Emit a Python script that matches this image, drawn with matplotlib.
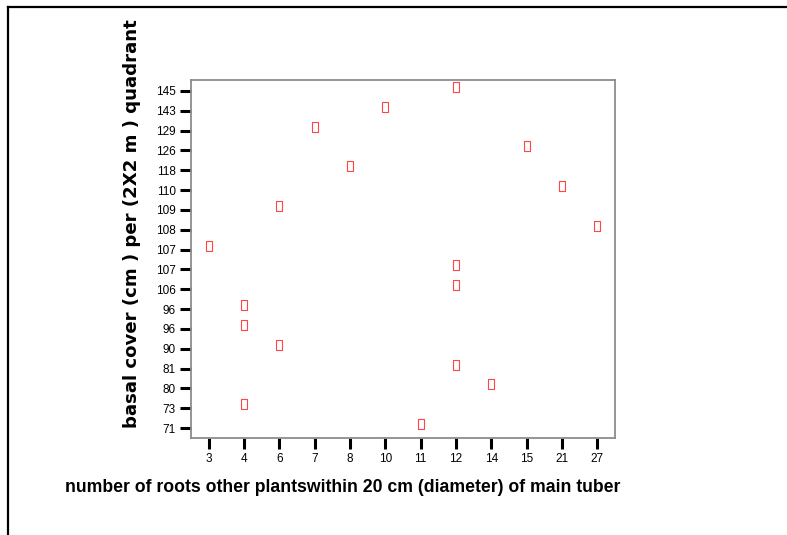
import matplotlib
matplotlib.use("Agg")
import matplotlib.pyplot as plt
from matplotlib.lines import Line2D
from matplotlib.path import Path
import matplotlib.transforms as mtransforms

# category axes: x = root counts, y = basal cover labels (bottom to top)
roots_labels = ["3", "4", "6", "7", "8", "10", "11", "12", "14", "15", "21", "27"]
cover_labels = ["71", "73", "80", "81", "90", "96", "96", "106", "107", "107",
                "108", "109", "110", "118", "126", "129", "143", "145"]

# one observation per cover row: (row index, root count label)
obs_row = [0, 1, 2, 3, 4, 5, 6, 7, 8, 9, 10, 11, 12, 13, 14, 15, 16, 17]
obs_roots = ["11", "4", "14", "12", "6", "4", "4", "12", "12", "3",
             "27", "6", "21", "8", "15", "7", "10", "12"]

RED = "#FF4545"
SPINE = "#8C8C8C"

plt.rcParams["font.family"] = ["Liberation Sans", "DejaVu Sans"]

fig = plt.figure(figsize=(7.87, 5.35), dpi=100)
ax = fig.add_axes([191 / 787, 1 - 438 / 535, 424 / 787, 358 / 535])

box = Path([(-0.3, -0.5), (0.3, -0.5), (0.3, 0.5), (-0.3, 0.5), (-0.3, -0.5)],
           [Path.MOVETO, Path.LINETO, Path.LINETO, Path.LINETO, Path.CLOSEPOLY])
xs = [roots_labels.index(r) for r in obs_roots]
lift = mtransforms.offset_copy(ax.transData, fig=fig, x=0, y=4, units="dots")
ax.plot(xs, obs_row, ls="none", marker=box, ms=6.5, mfc="none", mec=RED,
        mew=0.8, transform=lift, clip_on=False)

ax.set_xlim(-0.5, len(roots_labels) - 0.5)
ax.set_ylim(-0.5, len(cover_labels) - 0.45)
ax.set_xticks(range(len(roots_labels)))
ax.set_xticklabels(roots_labels)
ax.set_yticks(range(len(cover_labels)))
ax.set_yticklabels(cover_labels)
ax.tick_params(axis="both", direction="out", length=8, width=2.2,
               color="black", labelsize=8.5, pad=3)

for s in ax.spines.values():
    s.set_color(SPINE)
    s.set_linewidth(1.3)

ax.set_ylabel("basal cover (cm ) per (2X2 m ) quadrant", fontsize=13.1,
              fontweight="bold", family=["DejaVu Sans"])
ax.yaxis.set_label_coords((132 - 191) / 424, (438 - 224) / 358)
ax.yaxis.label.set_va("center")
fig.text(65 / 787, 1 - 487 / 535,
         "number of roots other plantswithin 20 cm (diameter) of main tuber",
         fontsize=12.7, fontweight="bold", va="center", ha="left",
         family=["Liberation Sans Narrow", "Liberation Sans"])

# page frame on top and left
fig.add_artist(Line2D([8 / 787, 1], [1 - 7 / 535, 1 - 7 / 535], color="black", lw=1.6))
fig.add_artist(Line2D([8 / 787, 8 / 787], [0, 1 - 7 / 535], color="black", lw=1.6))

fig.savefig("out.png", dpi=100)
